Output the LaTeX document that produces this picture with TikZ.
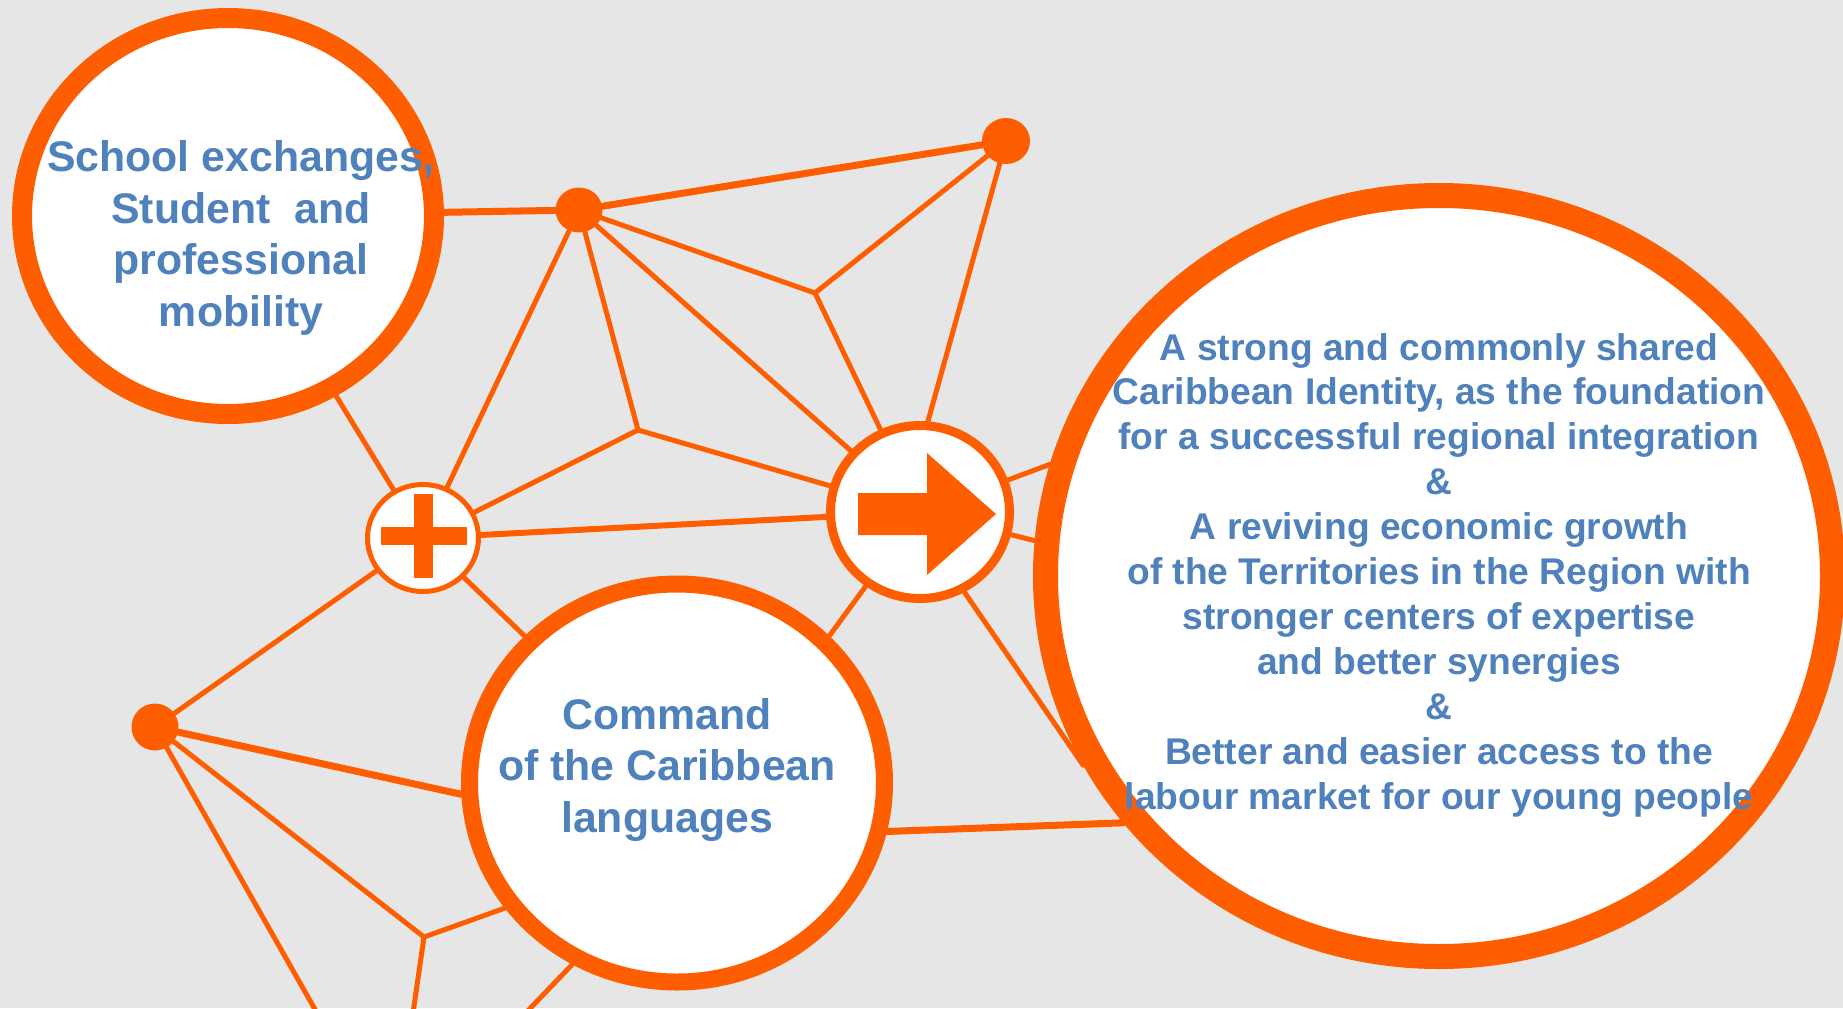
\documentclass[tikz,border=0pt]{standalone}
\usepackage{fontspec}
\setmainfont{Liberation Sans}
\usetikzlibrary{shapes.geometric,backgrounds}
\definecolor{bgc}{RGB}{230,230,230}
\definecolor{org}{RGB}{255,94,0}
\definecolor{tblue}{RGB}{79,129,189}
\begin{document}
\begin{tikzpicture}[x=0.5pt,y=-0.5pt,
  ring/.style={ellipse, draw=org, fill=white, inner sep=0pt},
  dot/.style={ellipse, fill=org, inner sep=0pt},
  link/.style={draw=org, line width=2.5pt, line cap=round, line join=round},
  thicklink/.style={link, line width=3.5pt},
  lbl/.style={text=tblue, align=center, inner sep=0pt},
  bigfont/.style={font=\bfseries\fontsize{21.4}{25.85}\selectfont},
  smallfont/.style={font=\bfseries\fontsize{18.6}{22.45}\selectfont}]
\useasboundingbox (0,0) rectangle (1843,1008);
% circles
\node[ring, line width=10pt, minimum width=206pt, minimum height=198pt] (A) at (228,216) {};
\node[ring, line width=8.5pt, minimum width=207.5pt, minimum height=199pt] (B) at (677,783) {};
\node[ring, line width=12.5pt, minimum width=393.5pt, minimum height=380.5pt] (C) at (1439,576) {};
\node[ring, line width=2.5pt, minimum width=55.5pt, minimum height=53.5pt] (P) at (423,538) {};
\node[ring, line width=4.5pt, minimum width=89.5pt, minimum height=86.5pt] (R) at (920,512) {};
\node[dot, minimum width=23.5pt, minimum height=22.5pt] (D1) at (579,210) {};
\node[dot, minimum width=24pt, minimum height=23pt] (D2) at (1006,141) {};
\node[dot, minimum width=23.5pt, minimum height=23.5pt] (D3) at (155,727) {};
\coordinate (J1) at (815,293);
\coordinate (J2) at (638,430);
\coordinate (J3) at (424,937);
\coordinate (E1) at (321,1020);
\coordinate (E2) at (412,1020);
\coordinate (E3) at (519,1020);
% plus sign
\fill[org] (381,527) rectangle (467,545);
\fill[org] (414,494) rectangle (433,578);
% arrow
\fill[org] (858,493) -- (927,493) -- (927,453) -- (996,514) -- (927,575) -- (927,535) -- (858,535) -- cycle;
% texts
\node[lbl, bigfont] (tA) at (241,238) {School exchanges,\\Student\ \ and\\professional\\mobility};
\node[lbl, bigfont] (tB) at (667,770) {Command\\of the Caribbean\\languages};
\node[lbl, smallfont] (tC) at (1439,575) {A strong and commonly shared\\Caribbean Identity, as the foundation\\for a successful regional integration\\\&\\A reviving economic growth\\of the Territories in the Region with\\stronger centers of expertise\\and better synergies\\\&\\Better and easier access to the\\labour market for our young people};
% connectors
\begin{scope}[on background layer]
\fill[bgc] (0,0) rectangle (1843,1008);
\draw[thicklink] (A) -- (D1);
\draw[thicklink] (D1) -- (D2);
\draw[link] (D1) -- (J1);
\draw[link] (D2) -- (J1);
\draw[link] (J1) -- (R);
\draw[link] (D1) -- (R);
\draw[link] (D1) -- (J2);
\draw[link] (D1) -- (P);
\draw[link] (J2) -- (R);
\draw[link] (J2) -- (P);
\draw[link] (A.-59) -- (P);
\draw[link, line width=3pt] (P) -- (R);
\draw[link] (P) -- (D3);
\draw[link] (P) -- (B);
\draw[thicklink] (D3) -- (B.183);
\draw[link] (D3) -- (J3);
\draw[link] (D3) -- (E1);
\draw[link] (J3) -- (B.216);
\draw[link] (J3) -- (E2);
\draw[link] (B.240) -- (E3);
\draw[link] (B.44) -- (R);
\draw[thicklink] (B.-13) -- (C.218);
\draw[link] (R.20) -- (C.164);
\draw[link] (R.-14) -- (C.175);
\draw[link] (R.-61) -- (C.208);
\draw[link] (D2) -- (R.85);
\end{scope}
\end{tikzpicture}
\end{document}
